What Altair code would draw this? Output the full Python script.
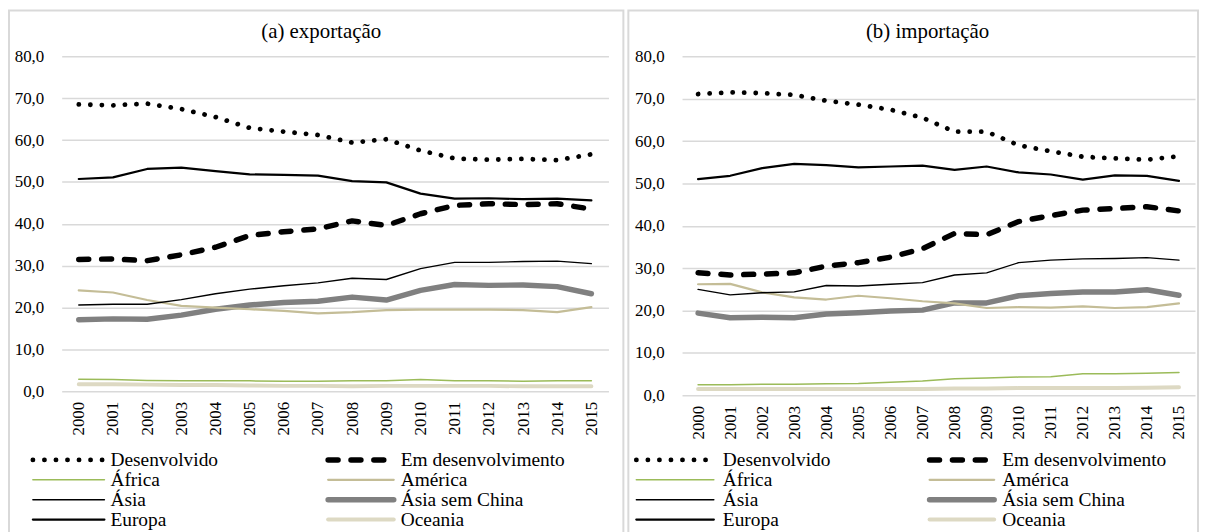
import altair as alt
import pandas as pd

anos = [str(a) for a in range(2000, 2016)]
series = ["Desenvolvido", "Em desenvolvimento", "África", "América",
          "Ásia", "Ásia sem China", "Europa", "Oceania"]

# (a) exportação
exp_desenvolvido = [68.5, 68.3, 68.7, 67.4, 65.5, 62.9, 62.0, 61.2, 59.4, 60.2, 57.5, 55.6, 55.3, 55.5, 55.2, 56.6]
exp_em_desenv = [31.5, 31.6, 31.2, 32.6, 34.4, 37.2, 38.1, 38.8, 40.7, 39.6, 42.4, 44.4, 44.8, 44.6, 44.8, 43.5]
exp_africa = [2.9, 2.8, 2.6, 2.5, 2.5, 2.5, 2.4, 2.4, 2.5, 2.5, 2.8, 2.5, 2.5, 2.4, 2.5, 2.5]
exp_america = [24.1, 23.6, 21.8, 20.4, 20.0, 19.6, 19.2, 18.6, 18.9, 19.4, 19.5, 19.5, 19.5, 19.4, 18.9, 20.1]
exp_asia = [20.6, 20.8, 20.8, 21.9, 23.3, 24.4, 25.2, 25.9, 27.0, 26.7, 29.3, 30.8, 30.8, 31.0, 31.1, 30.5]
exp_asia_sem_china = [17.1, 17.3, 17.2, 18.2, 19.6, 20.6, 21.2, 21.5, 22.5, 21.8, 24.1, 25.5, 25.3, 25.4, 25.0, 23.3]
exp_europa = [50.7, 51.1, 53.1, 53.4, 52.6, 51.8, 51.7, 51.5, 50.2, 49.9, 47.2, 46.0, 46.1, 45.9, 46.0, 45.6]
exp_oceania = [1.7, 1.7, 1.6, 1.5, 1.5, 1.4, 1.3, 1.3, 1.2, 1.3, 1.3, 1.3, 1.3, 1.2, 1.2, 1.2]

# (b) importação
imp_desenvolvido = [71.1, 71.5, 71.3, 70.9, 69.5, 68.6, 67.4, 65.5, 62.2, 62.2, 59.0, 57.6, 56.3, 55.9, 55.6, 56.4]
imp_em_desenv = [28.9, 28.4, 28.6, 28.9, 30.5, 31.3, 32.6, 34.6, 38.2, 37.9, 41.0, 42.4, 43.7, 44.1, 44.5, 43.5]
imp_africa = [2.5, 2.5, 2.6, 2.6, 2.7, 2.8, 3.1, 3.4, 3.9, 4.1, 4.3, 4.4, 5.1, 5.1, 5.2, 5.4]
imp_america = [26.2, 26.3, 24.3, 23.1, 22.6, 23.5, 22.9, 22.2, 21.7, 20.6, 20.8, 20.7, 21.0, 20.6, 20.8, 21.7]
imp_asia = [25.0, 23.7, 24.2, 24.4, 25.9, 25.8, 26.2, 26.6, 28.4, 28.9, 31.3, 31.9, 32.2, 32.3, 32.5, 31.9]
imp_asia_sem_china = [19.4, 18.3, 18.4, 18.3, 19.2, 19.5, 19.9, 20.1, 21.8, 21.8, 23.5, 24.0, 24.4, 24.4, 24.9, 23.6]
imp_europa = [51.0, 51.8, 53.6, 54.6, 54.3, 53.8, 54.0, 54.2, 53.2, 54.0, 52.6, 52.1, 50.9, 51.9, 51.8, 50.6]
imp_oceania = [1.5, 1.5, 1.5, 1.5, 1.5, 1.5, 1.5, 1.5, 1.6, 1.6, 1.7, 1.7, 1.7, 1.7, 1.8, 1.9]

exp_vals = [exp_desenvolvido, exp_em_desenv, exp_africa, exp_america,
            exp_asia, exp_asia_sem_china, exp_europa, exp_oceania]
imp_vals = [imp_desenvolvido, imp_em_desenv, imp_africa, imp_america,
            imp_asia, imp_asia_sem_china, imp_europa, imp_oceania]

# styles (one per series, same order as `series`)
cores = ["#000000", "#000000", "#9BBB59", "#C4BD97", "#000000", "#808080", "#000000", "#DDD9C3"]
larguras = [4.8, 5.5, 1.5, 2.2, 1.4, 5.5, 2.2, 4.0]
tracos = [[0.1, 11.5], [10, 13], None, None, None, None, None, None]
ordem_desenho = ["Oceania", "Ásia sem China", "América", "África", "Ásia", "Europa",
                 "Em desenvolvimento", "Desenvolvido"]

FONT = "Liberation Serif, Times New Roman, serif"
GRID = "#D9D9D9"

x_axis = alt.Axis(title=None, labelAngle=-90, domain=False, ticks=False, grid=False,
                  labelPadding=10, labelFont=FONT, labelFontSize=17, labelColor="black")
y_axis = alt.Axis(title=None, values=list(range(0, 81, 10)),
                  labelExpr="replace(format(datum.value, '.1f'), '.', ',')",
                  domain=False, ticks=False, grid=True, gridColor=GRID, gridWidth=1.5,
                  labelPadding=18, labelFont=FONT, labelFontSize=17, labelColor="black")


def style(i):
    kw = dict(color=cores[i], strokeWidth=larguras[i], strokeCap="round", strokeJoin="round")
    if tracos[i] is not None:
        kw["strokeDash"] = tracos[i]
    return kw


def panel(vals, titulo, w, h, title_x, rect_x, leg_sym0, leg_sym1, leg_txt):
    layers = []
    border = alt.Chart(pd.DataFrame({"b": [0]})).mark_rect(
        fillOpacity=0, stroke=GRID, strokeWidth=2
    ).encode(x=alt.value(rect_x[0]), x2=alt.value(rect_x[1]), y=alt.value(-46), y2=alt.value(490))
    layers.append(border)

    title = alt.Chart(pd.DataFrame({"t": [titulo]})).mark_text(
        align="center", baseline="alphabetic", font=FONT, fontSize=21, color="black"
    ).encode(x=alt.value(title_x), y=alt.value(-18), text="t:N")
    layers.append(title)

    for s in ordem_desenho:
        i = series.index(s)
        df = pd.DataFrame({"ano": anos, "valor": vals[i]})
        ln = alt.Chart(df).mark_line(**style(i)).encode(
            x=alt.X("ano:O", sort=anos, scale=alt.Scale(type="point", padding=0.5), axis=x_axis),
            y=alt.Y("valor:Q", scale=alt.Scale(domain=[0, 80]), axis=y_axis),
        )
        layers.append(ln)

    # legend (2 columns x 4 rows)
    row_y = [406, 426, 446, 466]
    for i, s in enumerate(series):
        c, r = i % 2, i // 2
        ldf = pd.DataFrame({"serie": [s], "x0": [leg_sym0[c]], "x1": [leg_sym1[c]],
                            "tx": [leg_txt[c]], "ly": [row_y[r]]})
        layers.append(alt.Chart(ldf).mark_rule(**style(i)).encode(
            x=alt.X("x0:Q", scale=None, axis=None), x2="x1:Q",
            y=alt.Y("ly:Q", scale=None, axis=None)))
        layers.append(alt.Chart(ldf).mark_text(
            align="left", baseline="middle", font=FONT, fontSize=19.5, color="black").encode(
            x=alt.X("tx:Q", scale=None, axis=None),
            y=alt.Y("ly:Q", scale=None, axis=None),
            text="serie:N"))

    return alt.layer(*layers).resolve_axis(x="shared", y="shared").properties(width=w, height=h)


left = panel(exp_vals, "(a) exportação", 550, 337, 261, (-53, 565),
             (-29, 268), (43, 334), (49, 341))
right = panel(imp_vals, "(b) importação", 516, 341, 247, (-54, 519),
              (-46, 249), (32, 314), (41, 322))

chart = alt.hconcat(left, right, spacing=3).properties(padding=0).configure(
    font=FONT).configure_view(stroke=None)

chart.save("out.html", embed_options={"renderer": "svg", "actions": False})
